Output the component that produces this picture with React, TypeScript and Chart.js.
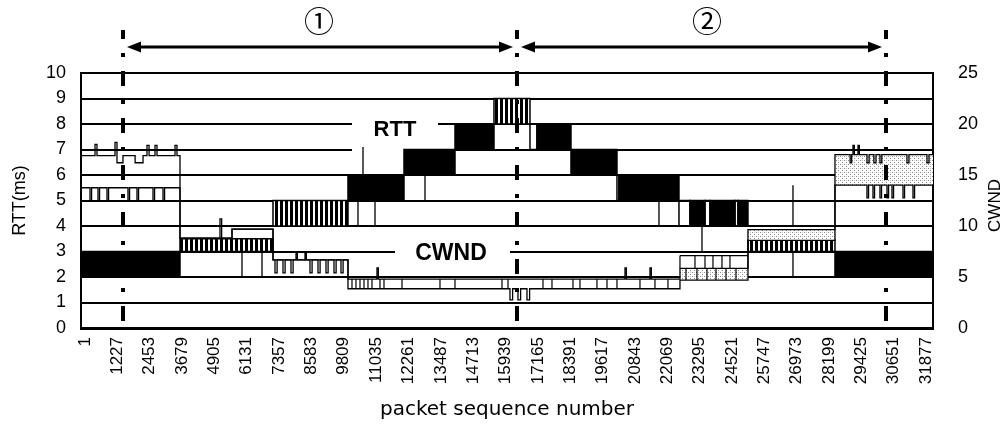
import React, { useEffect, useRef } from "react";
import { Chart, registerables } from "chart.js";

Chart.register(...registerables);

// x-axis tick labels (packet sequence numbers)
const xTickValues = [1, 1227, 2453, 3679, 4905, 6131, 7357, 8583, 9809, 11035, 12261, 13487, 14713, 15939, 17165, 18391, 19617, 20843, 22069, 23295, 24521, 25747, 26973, 28199, 29425, 30651, 31877];
const xMin = -151;
const xMax = 32141;

// RTT band (ms): step boundaries (packets), lower and upper edge of each step, kind of fill
const rttBounds = [-151, 3601, 7126, 9968, 12091, 14024, 15502, 16866, 17131, 18420, 20163, 20239, 22513, 22930, 23498, 23688, 24636, 24749, 25128, 28426, 32141];
const rttLow = [2, 3, 4, 5, 6, 7, 8, 7, 7, 6, 5, 5, 4, 4, 4, 4, 4, 4, 3, 2];
const rttHigh = [3, 3.5, 5, 6, 7, 8, 9, 8, 8, 7, 6, 6, 5, 5, 5, 5, 5, 5, 3.45, 3];
const rttFill = ["solid", "stripe", "stripe", "solid", "solid", "solid", "stripe", "none", "solid", "solid", "none", "solid", "none", "solid", "none", "solid", "none", "solid", "stripe", "solid"];

// CWND upper envelope (value holds from its packet to the next one)
const cwndHighX = [-151, 380, 455, 1138, 1213, 1440, 1900, 2200, 2350, 2430, 2654, 2730, 3412, 3487,
  3601, 5117, 5180, 5572,
  7126, 7998, 8050, 8339, 8390,
  9968, 11067, 11120, 20467, 20520, 21414, 21467,
  22551, 25128,
  28426, 29000, 29060, 29108, 29160, 29298, 29350, 29640, 29720, 29900, 29980, 30130, 30200, 31155, 31230, 31913, 31990, 32141];
const cwndHighY = [16.9, 18.0, 16.9, 18.2, 16.2, 16.9, 16.2, 16.9, 17.9, 16.9, 17.9, 16.9, 17.9, 16.9,
  8.8, 10.7, 8.8, 9.7,
  6.67, 7.4, 6.67, 7.4, 6.67,
  4.8, 5.9, 4.8, 5.9, 4.8, 5.9, 4.8,
  5.85, 9.65,
  17.0, 16.2, 17.0, 17.9, 17.0, 17.9, 17.0, 16.2, 17.0, 16.2, 17.0, 16.2, 17.0, 16.2, 17.0, 16.2, 17.0, 17.0];

// CWND lower envelope
const cwndLowX = [-151, 190, 250, 493, 553, 834, 894, 1630, 1690, 1971, 2031, 2578, 2638, 2957, 3017,
  3601, 5572,
  7126, 7202, 7282, 7505, 7585, 7808, 7888, 8528, 8608, 8831, 8911, 9135, 9215, 9438, 9518, 9703, 9783,
  9968, 16108, 16208, 16411, 16511, 16752, 16852,
  22551, 25128,
  28426, 29638, 29698, 29866, 29926, 30131, 30191, 30397, 30457, 30586, 30646, 31003, 31063, 31382, 31442, 32141];
const cwndLowY = [13.75, 12.5, 13.75, 12.5, 13.75, 12.5, 13.75, 12.5, 13.75, 12.5, 13.75, 12.5, 13.75, 12.5, 13.75,
  8.8, 9.7,
  6.67, 5.4, 6.67, 5.4, 6.67, 5.4, 6.67, 5.4, 6.67, 5.4, 6.67, 5.4, 6.67, 5.4, 6.67, 5.4, 6.67,
  3.85, 2.75, 3.85, 2.75, 3.85, 2.75, 3.85,
  4.7, 8.6,
  14.0, 12.75, 14.0, 12.75, 14.0, 12.75, 14.0, 12.75, 14.0, 12.75, 14.0, 12.75, 14.0, 12.75, 14.0, 14.0];

// dotted CWND regions
const dotStart = [22551, 25128, 28426];
const dotEnd = [25128, 28426, 32141];
const dotLow = [4.7, 8.6, 14.0];
const dotHigh = [5.85, 9.65, 17.0];

// thin RTT strokes (ms)
const rttTickX = [5951, 6709, 10347, 10537, 10992, 12887, 21755, 23385, 26834, 26834];
const rttTickFrom = [2, 2, 4, 6, 4, 5, 4, 3, 2, 4];
const rttTickTo = [3, 3, 5, 7.1, 5, 6, 5, 4, 3, 5.6];

// thin CWND strokes
const cwndLineX1 = [10120, 10271, 10423, 10575, 10726, 10878, 11181, 11333, 12015, 13455, 14024, 15805, 16033, 17359, 17700, 18496, 18761, 19405, 19785, 20163, 21035, 21603, 22096,
  22778, 23195, 23575, 23916, 24295, 24674,
  23120, 23499, 23802, 24143, 24446,
  22551, 22551];
const cwndLineY1 = [3.85, 3.85, 3.85, 3.85, 3.85, 3.85, 3.85, 3.85, 3.85, 3.85, 3.85, 3.85, 3.85, 3.85, 3.85, 3.85, 3.85, 3.85, 3.85, 3.85, 3.85, 3.85, 3.85,
  4.7, 4.7, 4.7, 4.7, 4.7, 4.7,
  5.85, 5.85, 5.85, 5.85, 5.85,
  7.1, 5.85];
const cwndLineX2 = [10120, 10271, 10423, 10575, 10726, 10878, 11181, 11333, 12015, 13455, 14024, 15805, 16033, 17359, 17700, 18496, 18761, 19405, 19785, 20163, 21035, 21603, 22096,
  22778, 23195, 23575, 23916, 24295, 24674,
  23120, 23499, 23802, 24143, 24446,
  25128, 22551];
const cwndLineY2 = [4.8, 4.8, 4.8, 4.8, 4.8, 4.8, 4.8, 4.8, 4.8, 4.8, 4.8, 4.8, 4.8, 4.8, 4.8, 4.8, 4.8, 4.8, 4.8, 4.8, 4.8, 4.8, 4.8,
  5.85, 5.85, 5.85, 5.85, 5.85, 5.85,
  7.1, 7.1, 7.1, 7.1, 7.1,
  7.1, 7.1];

// annotations
const phaseBounds = [1441, 16374, 30360];
const phaseLabels = ["\u2460", "\u2461"];
const phaseLabelX = [8869, 23574];
const rttLabel = { text: "RTT", x: 11750, y: 7.75, box: [10120, 13380, 6.94, 8.55] };
const cwndLabel = { text: "CWND", x: 13872, y: 2.9, box: [11750, 16108, 2.4, 3.45] };

const FONT = "'Liberation Sans', Arial, sans-serif";
const CLEAR = "rgba(0,0,0,0)";

function makePattern(kind: string) {
  const c = document.createElement("canvas");
  const g = c.getContext("2d")!;
  if (kind === "stripe") {
    c.width = 5; c.height = 4;
    g.fillStyle = "#fff"; g.fillRect(0, 0, 5, 4);
    g.fillStyle = "#000"; g.fillRect(0, 0, 3, 4);
  } else {
    c.width = 4; c.height = 4;
    g.fillStyle = "#fff"; g.fillRect(0, 0, 4, 4);
    g.fillStyle = "#8a8a8a"; g.fillRect(0, 0, 1, 1); g.fillRect(2, 2, 1, 1);
    g.fillStyle = "#c8c8c8"; g.fillRect(2, 0, 1, 1);
  }
  return g.createPattern(c, "repeat")!;
}

function pts(xs: number[], ys: number[]) {
  return xs.map((x, i) => ({ x, y: ys[i] }));
}

// closed rectangles (5 points + gap) per step
function rects(x0: number[], x1: number[], lo: number[], hi: number[]) {
  const out: any[] = [];
  lo.forEach((l, i) => {
    const h = hi[i];
    out.push({ x: x0[i], y: l }, { x: x0[i], y: h }, { x: x1[i], y: h }, { x: x1[i], y: l }, { x: x0[i], y: l }, { x: x0[i], y: null });
  });
  return out;
}

function strokes(x1: number[], y1: number[], x2: number[], y2: number[]) {
  const out: any[] = [];
  x1.forEach((x, i) => {
    out.push({ x, y: y1[i] }, { x: x2[i], y: y2[i] }, { x: x2[i], y: null });
  });
  return out;
}

const annotPlugin = {
  id: "annot",
  beforeDatasetsDraw(chart: any) {
    const { ctx, scales } = chart;
    const x = scales.x, y = scales.y;
    ctx.save();
    ctx.fillStyle = "#fff";
    for (const l of [rttLabel, cwndLabel]) {
      const [a, b, lo, hi] = l.box;
      const px1 = x.getPixelForValue(a), px2 = x.getPixelForValue(b);
      const py1 = y.getPixelForValue(hi), py2 = y.getPixelForValue(lo);
      ctx.fillRect(px1, py1, px2 - px1, py2 - py1);
    }
    ctx.fillStyle = "#000";
    ctx.textAlign = "center";
    ctx.textBaseline = "middle";
    ctx.font = `bold 22px ${FONT}`;
    ctx.fillText(rttLabel.text, x.getPixelForValue(rttLabel.x), y.getPixelForValue(rttLabel.y));
    ctx.font = `bold 23px ${FONT}`;
    ctx.fillText(cwndLabel.text, x.getPixelForValue(cwndLabel.x), y.getPixelForValue(cwndLabel.y));
    ctx.restore();
  },
  afterDraw(chart: any) {
    const { ctx, scales } = chart;
    const x = scales.x, y = scales.y;
    ctx.save();
    // dash-dot phase boundaries
    ctx.strokeStyle = "#000";
    ctx.lineWidth = 4;
    ctx.setLineDash([15, 14, 4, 14]);
    ctx.lineDashOffset = 6;
    const yTop = y.getPixelForValue(11.69);
    const yBot = y.getPixelForValue(-0.2);
    for (const b of phaseBounds) {
      const px = Math.round(x.getPixelForValue(b));
      ctx.beginPath();
      ctx.moveTo(px, yTop);
      ctx.lineTo(px, yBot);
      ctx.stroke();
    }
    ctx.setLineDash([]);
    // arrows
    const ay = y.getPixelForValue(11.02);
    ctx.lineWidth = 3;
    ctx.fillStyle = "#000";
    for (let i = 0; i < phaseBounds.length - 1; i++) {
      const x1 = x.getPixelForValue(phaseBounds[i]) + 4;
      const x2 = x.getPixelForValue(phaseBounds[i + 1]) - 4;
      ctx.beginPath();
      ctx.moveTo(x1 + 8, ay);
      ctx.lineTo(x2 - 8, ay);
      ctx.stroke();
      ctx.beginPath();
      ctx.moveTo(x1, ay); ctx.lineTo(x1 + 14, ay - 5.5); ctx.lineTo(x1 + 14, ay + 5.5); ctx.closePath();
      ctx.fill();
      ctx.beginPath();
      ctx.moveTo(x2, ay); ctx.lineTo(x2 - 14, ay - 5.5); ctx.lineTo(x2 - 14, ay + 5.5); ctx.closePath();
      ctx.fill();
    }
    // circled phase numbers
    ctx.font = "30px 'Noto Sans CJK JP', 'DejaVu Sans', sans-serif";
    ctx.textAlign = "center";
    ctx.textBaseline = "middle";
    const ly = y.getPixelForValue(12.04);
    phaseLabels.forEach((t, i) => ctx.fillText(t, x.getPixelForValue(phaseLabelX[i]), ly));
    // right axis title (reads bottom to top)
    ctx.font = `17px ${FONT}`;
    ctx.translate(995, (chart.chartArea.top + chart.chartArea.bottom) / 2 + 5);
    ctx.rotate(-Math.PI / 2);
    ctx.fillText("CWND", 0, 0);
    ctx.restore();
  },
};

export default function App() {
  const ref = useRef<HTMLCanvasElement | null>(null);
  useEffect(() => {
    if (!ref.current) return;
    const stripe = makePattern("stripe");
    const dots = makePattern("dots");
    const fillFor = (k: string) => (k === "solid" ? "#000" : k === "stripe" ? stripe : CLEAR);
    const chart = new Chart(ref.current, {
      type: "line",
      data: {
        datasets: [
          {
            label: "RTT",
            data: rects(rttBounds.slice(0, -1), rttBounds.slice(1), rttLow, rttHigh),
            yAxisID: "y", borderColor: "#000", borderWidth: 1.5, pointRadius: 0,
            fill: "shape", backgroundColor: "#000", spanGaps: false, order: 10,
            segment: { backgroundColor: (c: any) => fillFor(rttFill[Math.floor(c.p0DataIndex / 6)]) },
          },
          {
            label: "CWND dotted",
            data: rects(dotStart, dotEnd, dotLow, dotHigh),
            yAxisID: "y1", borderWidth: 0, borderColor: CLEAR, pointRadius: 0,
            fill: "shape", backgroundColor: dots, spanGaps: false, order: 6,
          },
          {
            label: "CWND high", data: pts(cwndHighX, cwndHighY), yAxisID: "y1", stepped: "before",
            borderColor: "#000", borderWidth: 1.3, pointRadius: 0, fill: false, order: 5,
          },
          {
            label: "CWND low", data: pts(cwndLowX, cwndLowY), yAxisID: "y1", stepped: "before",
            borderColor: "#000", borderWidth: 1.3, pointRadius: 0, fill: false, order: 5,
          },
          {
            label: "RTT strokes", data: strokes(rttTickX, rttTickFrom, rttTickX, rttTickTo), yAxisID: "y",
            borderColor: "#000", borderWidth: 1.3, pointRadius: 0, fill: false, spanGaps: false, order: 1,
          },
          {
            label: "CWND strokes", data: strokes(cwndLineX1, cwndLineY1, cwndLineX2, cwndLineY2), yAxisID: "y1",
            borderColor: "#000", borderWidth: 1.2, pointRadius: 0, fill: false, spanGaps: false, order: 1,
          },
        ],
      },
      options: {
        animation: false,
        responsive: false,
        maintainAspectRatio: false,
        layout: { padding: { top: 73, left: 0, right: 0, bottom: 0 } },
        plugins: { legend: { display: false }, tooltip: { enabled: false } },
        scales: {
          x: {
            type: "linear", min: xMin, max: xMax,
            afterBuildTicks: (s: any) => { s.ticks = xTickValues.map((v) => ({ value: v })); },
            afterFit: (s: any) => { s.height = 100; },
            ticks: {
              autoSkip: false, minRotation: 90, maxRotation: 90, padding: 9, color: "#000",
              font: { family: FONT, size: 17 }, callback: (v: any) => String(v),
            },
            grid: { display: false, drawTicks: false },
            border: { display: true, color: "#000", width: 3 },
            title: {
              display: true, text: "packet sequence number", color: "#000",
              font: { family: "'DejaVu Sans', sans-serif", size: 20 }, padding: { top: 0, bottom: 6 },
            },
          },
          y: {
            position: "left", min: 0, max: 10,
            afterFit: (s: any) => { s.width = 81; },
            ticks: { stepSize: 1, color: "#000", padding: 15, font: { family: FONT, size: 18 } },
            grid: { color: "#000", lineWidth: 2, drawTicks: false },
            border: { display: true, color: "#000", width: 2 },
            title: { display: true, text: "RTT(ms)", color: "#000", font: { family: FONT, size: 18 }, padding: { top: 9 } },
          },
          y1: {
            position: "right", min: 0, max: 25,
            afterFit: (s: any) => { s.width = 74; },
            ticks: { stepSize: 5, color: "#000", padding: 25, font: { family: FONT, size: 18 } },
            grid: { drawOnChartArea: false, drawTicks: false },
            border: { display: true, color: "#000", width: 2 },
          },
        },
      },
      plugins: [annotPlugin],
    } as any);
    return () => chart.destroy();
  }, []);
  return (
    <div style={{ position: "fixed", left: 0, top: 0, width: 1007, height: 428, background: "#fff" }}>
      <canvas ref={ref} width={1007} height={428} style={{ display: "block" }} />
    </div>
  );
}
